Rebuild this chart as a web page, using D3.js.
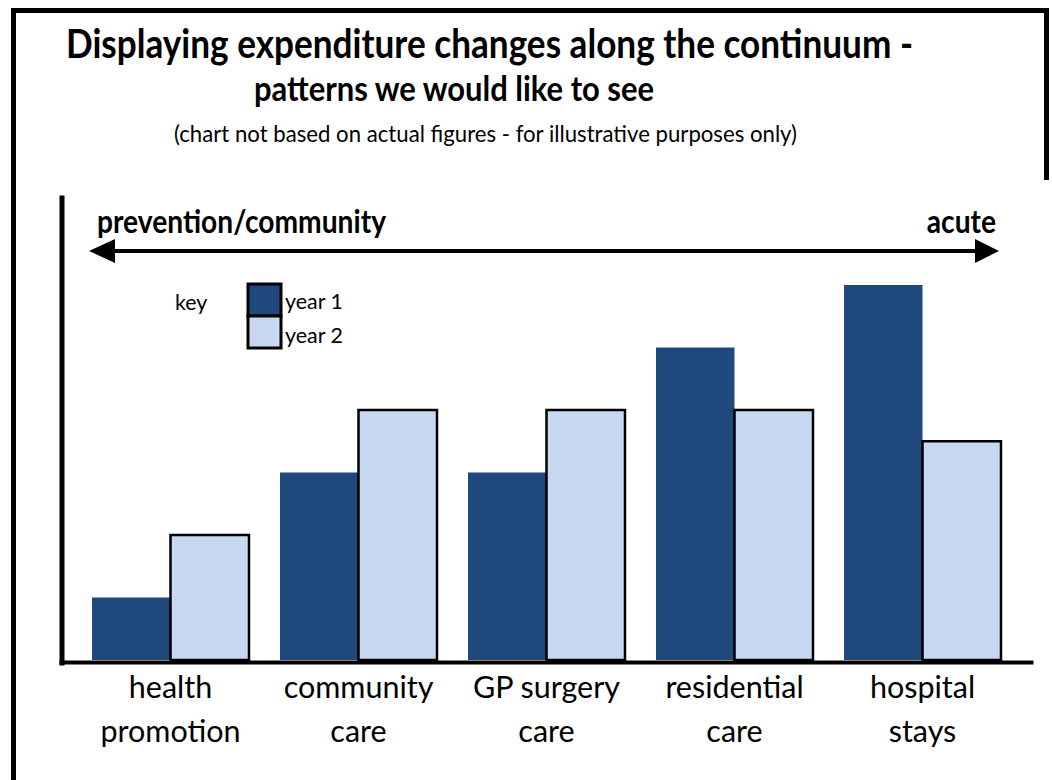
<!DOCTYPE html>
<html>
<head>
<meta charset="utf-8">
<script src="https://cdn.jsdelivr.net/npm/d3@7"></script>
<style>
  html, body { margin: 0; padding: 0; background: #fff; }
  svg { display: block; font-family: Lato, "Open Sans", sans-serif; }
</style>
</head>
<body>
<svg id="chart" width="1052" height="780"></svg>
<script>
// Service categories along the care continuum (label lines per category)
const categories = ["health promotion", "community care", "GP surgery care", "residential care", "hospital stays"];
const categoryLines = [["health", "promotion"], ["community", "care"], ["GP surgery", "care"], ["residential", "care"], ["hospital", "stays"]];
const seriesNames = ["year 1", "year 2"];
const year1 = [1, 3, 3, 5, 6];
const year2 = [2, 4, 4, 4, 3.5];
const seriesColors = ["#1F497D", "#C6D9F1"];

const titleText = "Displaying expenditure changes along the continuum -";
const subtitleText = "patterns we would like to see";
const noteText = "(chart not based on actual figures - for illustrative purposes only)";

const svg = d3.select("#chart");
const BOLD_SQUEEZE = 0.88;

// Size a text so it spans the given width; squeeze < 1 draws taller, condensed glyphs
function fitWidth(sel, width, squeeze = 1) {
  const size = parseFloat(sel.attr("font-size"));
  const w = sel.node().getComputedTextLength();
  const fitted = size * width / w;
  sel.attr("font-size", (fitted / squeeze).toFixed(2));
  if (squeeze !== 1) sel.attr("textLength", width).attr("lengthAdjust", "spacingAndGlyphs");
  return sel;
}
// Condense a text horizontally by the given factor at its current size
function condense(sel, squeeze) {
  const w = sel.node().getComputedTextLength();
  sel.attr("textLength", (w * squeeze).toFixed(2)).attr("lengthAdjust", "spacingAndGlyphs");
  return sel;
}

// Frame
svg.append("path")
  .attr("d", "M13.5,780 V10.5 H1046.5 V180")
  .attr("fill", "none").attr("stroke", "#000").attr("stroke-width", 5);

// Titles
fitWidth(svg.append("text").attr("x", 66).attr("y", 58).attr("font-size", 28)
  .attr("font-weight", "bold").text(titleText), 847, BOLD_SQUEEZE);
fitWidth(svg.append("text").attr("x", 254).attr("y", 101).attr("font-size", 22)
  .attr("font-weight", "bold").text(subtitleText), 400, BOLD_SQUEEZE);
fitWidth(svg.append("text").attr("x", 174).attr("y", 142).attr("font-size", 16)
  .text(noteText), 623, 0.95);

// Scales
const x0 = d3.scaleBand().domain(categories).range([76.5, 1016.5])
  .paddingInner(0.165).paddingOuter(0.0825);
const x1 = d3.scaleBand().domain(seriesNames).range([0, x0.bandwidth()]);
const y = d3.scaleLinear().domain([0, 7.44]).range([660, 195]);

const rows = categories.map((c, i) => ({ category: c, values: [year1[i], year2[i]] }));

// Bars: year 1 first, year 2 on top with its outline
seriesNames.forEach((s, si) => {
  svg.append("g").selectAll("rect")
    .data(rows)
    .join("rect")
    .attr("x", d => x0(d.category) + x1(s))
    .attr("y", d => y(d.values[si]))
    .attr("width", x1.bandwidth())
    .attr("height", d => y(0) - y(d.values[si]))
    .attr("fill", seriesColors[si])
    .attr("stroke", si === 1 ? "#000" : "none")
    .attr("stroke-width", 2.5);
});

// Axes
const axisLeftX = 61.5;
const yAxis = svg.append("g").attr("transform", `translate(${axisLeftX},0)`)
  .call(d3.axisLeft(d3.scaleLinear().domain([0, 1]).range([665, 195])).ticks(0).tickSize(0));
yAxis.select(".domain").attr("stroke", "#000").attr("stroke-width", 5);

const xAxisScale = d3.scaleLinear().domain([0, 1]).range([axisLeftX - 2.5, 1033]);
const xAxisG = svg.append("g").attr("transform", `translate(0,${y(0) + 2})`)
  .call(d3.axisBottom(xAxisScale).ticks(0).tickSize(0));
xAxisG.select(".domain").attr("stroke", "#000").attr("stroke-width", 4);

// Category labels
const catAxis = svg.append("g").attr("transform", `translate(0,${y(0)})`)
  .call(d3.axisBottom(x0).tickSize(0).tickFormat(""));
catAxis.select(".domain").remove();
catAxis.selectAll(".tick text").each(function (d, i) {
  const t = d3.select(this)
    .attr("y", 0).attr("dy", null)
    .attr("fill", "#000")
    .attr("font-family", "Lato, 'Open Sans', sans-serif")
    .attr("font-size", 30.5)
    .attr("text-anchor", "middle");
  categoryLines[i].forEach((line, li) => {
    t.append("tspan").attr("x", 0).attr("y", 38 + li * 44).text(line);
  });
});

// Continuum arrow
const arrowY = 251;
svg.append("line").attr("x1", 105).attr("x2", 985).attr("y1", arrowY).attr("y2", arrowY)
  .attr("stroke", "#000").attr("stroke-width", 4);
svg.append("path").attr("d", `M89,${arrowY} L115,${arrowY - 12} L115,${arrowY + 12} Z`).attr("fill", "#000");
svg.append("path").attr("d", `M999,${arrowY} L975,${arrowY - 12} L975,${arrowY + 12} Z`).attr("fill", "#000");

const leftLabel = fitWidth(svg.append("text").attr("x", 97).attr("y", 233).attr("font-size", 22)
  .attr("font-weight", "bold").text("prevention/community"), 289, BOLD_SQUEEZE);
condense(svg.append("text").attr("x", 996).attr("y", 233).attr("font-size", leftLabel.attr("font-size"))
  .attr("font-weight", "bold").attr("text-anchor", "end").text("acute"), BOLD_SQUEEZE);

// Key
const keyLabel = svg.append("text").attr("x", 175).attr("y", 310).attr("font-size", 18).text("key");
const key = svg.append("g");
seriesNames.forEach((s, i) => {
  key.append("rect").attr("x", 248).attr("y", 284 + i * 32).attr("width", 33).attr("height", 32)
    .attr("fill", seriesColors[i]).attr("stroke", "#000").attr("stroke-width", 3);
  fitWidth(key.append("text").attr("x", 285).attr("y", 309 + i * 34).attr("font-size", 18).text(s), 58);
});
keyLabel.attr("font-size", key.select("text").attr("font-size"));
</script>
</body>
</html>
